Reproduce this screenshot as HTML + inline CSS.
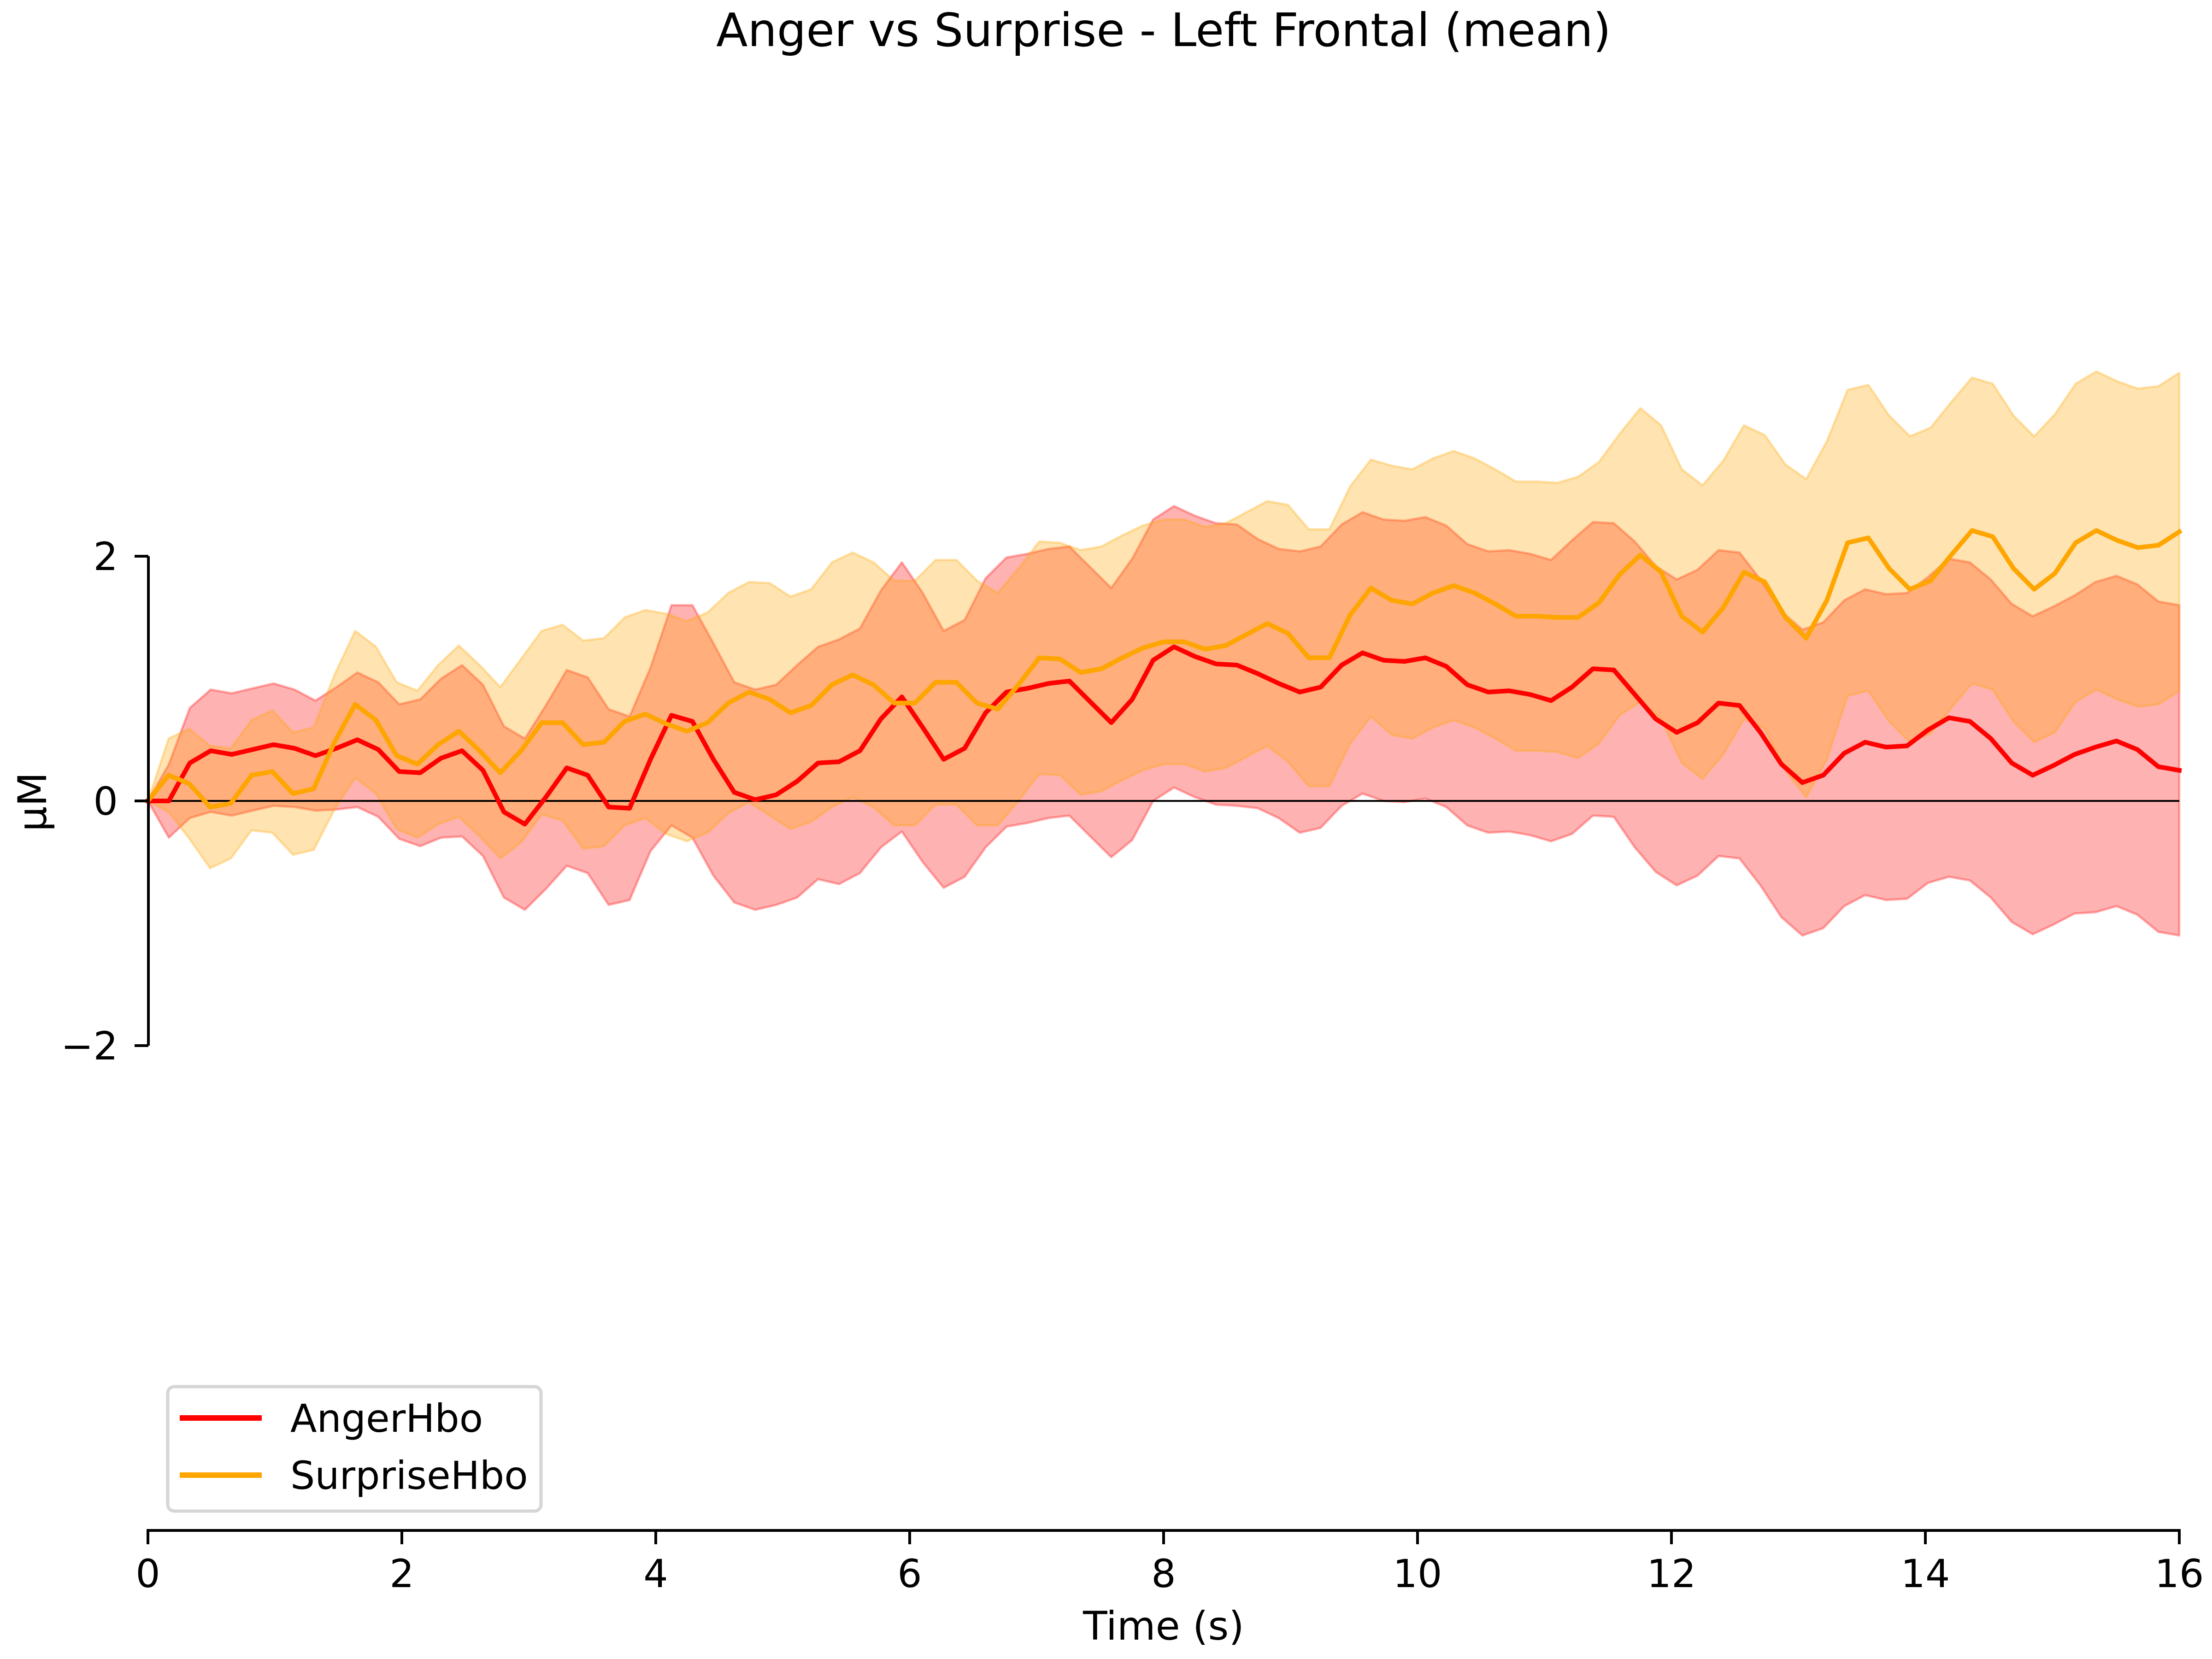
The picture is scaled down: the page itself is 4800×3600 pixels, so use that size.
<!DOCTYPE html>
<html><head><meta charset="utf-8"><style>
html,body{margin:0;padding:0;background:#fff;}
svg{display:block;font-family:"DejaVu Sans","Liberation Sans",sans-serif;}
</style></head><body>
<svg id="chart" width="4800" height="3600" viewBox="0 0 4800 3600" xmlns="http://www.w3.org/2000/svg">
<rect width="4800" height="3600" fill="#fff"/>
<text x="2525" y="100" font-size="100" text-anchor="middle">Anger vs Surprise - Left Frontal (mean)</text>
<g id="plot"></g>
<g id="axes"></g>
<text transform="translate(100,1740) rotate(-90)" font-size="86" text-anchor="middle">μM</text>
<text x="2525" y="3558" font-size="86" text-anchor="middle">Time (s)</text>
<g>
<rect x="364" y="3009" width="810" height="270" rx="14" fill="#fff" stroke="#d6d6d6" stroke-width="7"/>
<line x1="390" y1="3077" x2="568" y2="3077" stroke="#ff0000" stroke-width="12"/>
<text x="630" y="3107" font-size="84">AngerHbo</text>
<line x1="390" y1="3201" x2="568" y2="3201" stroke="#ffa500" stroke-width="12"/>
<text x="630" y="3231" font-size="84">SurpriseHbo</text>
</g>
</svg>
<script>
const angerMean = [0,0,.31,.41,.38,.42,.46,.43,.37,.43,.50,.42,.24,.23,.35,.41,.25,-.09,-.19,.03,.27,.21,-.05,-.06,.34,.70,.65,.34,.07,.01,.05,.16,.31,.32,.41,.67,.85,.60,.34,.43,.72,.89,.92,.96,.98,.81,.64,.83,1.15,1.26,1.18,1.12,1.11,1.04,.96,.89,.93,1.11,1.21,1.15,1.14,1.17,1.10,.95,.89,.90,.87,.82,.93,1.08,1.07,.87,.67,.56,.64,.80,.78,.56,.30,.15,.21,.39,.48,.44,.45,.58,.68,.65,.51,.31,.21,.29,.38,.44,.49,.42,.28,.25];
const angerSd = [0,.3,.45,.5,.5,.5,.5,.48,.45,.5,.55,.55,.55,.6,.65,.7,.7,.7,.7,.75,.8,.8,.8,.75,.75,.9,.95,.95,.9,.9,.9,.95,.95,1.0,1.0,1.05,1.1,1.1,1.05,1.05,1.1,1.1,1.1,1.1,1.1,1.1,1.1,1.15,1.15,1.15,1.15,1.15,1.15,1.1,1.1,1.15,1.15,1.15,1.15,1.15,1.15,1.15,1.15,1.15,1.15,1.15,1.15,1.15,1.2,1.2,1.2,1.25,1.25,1.25,1.25,1.25,1.25,1.25,1.25,1.25,1.25,1.25,1.25,1.25,1.25,1.25,1.3,1.3,1.3,1.3,1.3,1.3,1.3,1.35,1.35,1.35,1.35,1.35];
const surpriseMean = [0,.21,.14,-.05,-.02,.21,.24,.06,.10,.48,.79,.66,.37,.30,.46,.57,.41,.23,.41,.64,.64,.46,.48,.65,.71,.63,.57,.64,.80,.89,.83,.72,.78,.95,1.03,.95,.80,.80,.97,.97,.80,.75,.95,1.17,1.16,1.05,1.08,1.17,1.25,1.30,1.30,1.24,1.27,1.36,1.45,1.37,1.17,1.17,1.52,1.74,1.64,1.61,1.70,1.76,1.70,1.61,1.51,1.51,1.50,1.50,1.62,1.85,2.01,1.87,1.51,1.38,1.58,1.87,1.79,1.50,1.33,1.64,2.11,2.15,1.90,1.73,1.80,2.01,2.21,2.16,1.90,1.73,1.86,2.11,2.21,2.13,2.07,2.09,2.20];
const surpriseSd = [0,.3,.45,.5,.45,.45,.5,.5,.5,.55,.6,.6,.6,.6,.65,.7,.7,.7,.75,.75,.8,.85,.85,.85,.85,.9,.9,.9,.9,.9,.95,.95,.95,1.0,1.0,1.0,1.0,1.0,1.0,1.0,1.0,.95,.95,.95,.95,1.0,1.0,1.0,1.0,1.0,1.0,1.0,1.0,1.0,1.0,1.05,1.05,1.05,1.05,1.05,1.1,1.1,1.1,1.1,1.1,1.1,1.1,1.1,1.1,1.15,1.15,1.15,1.2,1.2,1.2,1.2,1.2,1.2,1.2,1.25,1.3,1.3,1.25,1.25,1.25,1.25,1.25,1.25,1.25,1.25,1.25,1.25,1.3,1.3,1.3,1.3,1.3,1.3,1.3];
const xTicks = [0,2,4,6,8,10,12,14,16];
const yTicks = [2,0,-2];
const yTickLabels = ["2","0","\u22122"];
const tMax = 16;

const NS = "http://www.w3.org/2000/svg";
const X0 = 321, X1 = 4729, Y0 = 1738, YS = 265.5;
function xScale(t){ return X0 + t*(X1-X0)/16; }
function yScale(v){ return Y0 - v*YS; }
function mk(tag, attrs, parent){
  const e = document.createElementNS(NS, tag);
  for (const k in attrs) e.setAttribute(k, attrs[k]);
  parent.appendChild(e); return e;
}
const plot = document.getElementById('plot');
const axes = document.getElementById('axes');

function times(n){ const a=[]; for(let i=0;i<n;i++) a.push(i*tMax/(n-1)); return a; }

function band(mean, sd, color, name){
  const ts = times(mean.length);
  const up = mean.map((m,i)=>xScale(ts[i]).toFixed(1)+','+yScale(m+(sd[i]!==undefined?sd[i]:sd[sd.length-1])).toFixed(1));
  const lo = mean.map((m,i)=>xScale(ts[i]).toFixed(1)+','+yScale(m-(sd[i]!==undefined?sd[i]:sd[sd.length-1])).toFixed(1)).reverse();
  const p = mk('polygon', {points: up.concat(lo).join(' '), fill: color, 'fill-opacity': 0.3, stroke: color, 'stroke-opacity': 0.3, 'stroke-width': 5, 'stroke-linejoin': 'round'}, plot);
  
  
}
function line(mean, color, name){
  const ts = times(mean.length);
  const pts = mean.map((m,i)=>xScale(ts[i]).toFixed(1)+','+yScale(m).toFixed(1)).join(' ');
  const l = mk('polyline', {points: pts, fill: 'none', stroke: color, 'stroke-width': 10, 'stroke-linejoin': 'round', 'stroke-linecap': 'square'}, plot);
  
  
}
band(angerMean, angerSd, '#ff0000', 'anger-ci-band');
band(surpriseMean, surpriseSd, '#ffa500', 'surprise-ci-band');
const zl = mk('line', {x1: xScale(0), x2: xScale(16), y1: yScale(0), y2: yScale(0), stroke: '#000', 'stroke-width': 4}, plot);


line(angerMean, '#ff0000', 'anger-line');
line(surpriseMean, '#ffa500', 'surprise-line');

// y axis
const ys = mk('line', {x1: 322, x2: 322, y1: yScale(2), y2: yScale(-2), stroke: '#000', 'stroke-width': 6}, axes);


yTicks.forEach((v,i)=>{
  const tk = mk('line', {x1: 292, x2: 322, y1: yScale(v), y2: yScale(v), stroke: '#000', 'stroke-width': 6}, axes);
  
  
  const tx = mk('text', {x: 256, y: yScale(v)+30, 'font-size': 84, 'text-anchor': 'end'}, axes);
  tx.textContent = yTickLabels[i];
  
  
});
// x axis
const xs = mk('line', {x1: xScale(0)-3, x2: xScale(16)+3, y1: 3321, y2: 3321, stroke: '#000', 'stroke-width': 6}, axes);


xTicks.forEach(t=>{
  const tk = mk('line', {x1: xScale(t), x2: xScale(t), y1: 3321, y2: 3351, stroke: '#000', 'stroke-width': 6}, axes);
  
  
  const tx = mk('text', {x: xScale(t), y: 3444, 'font-size': 84, 'text-anchor': 'middle'}, axes);
  tx.textContent = String(t);
  
  
});
</script>
</body></html>
